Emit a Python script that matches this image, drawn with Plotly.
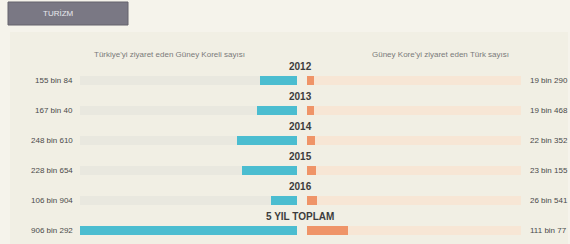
import plotly.graph_objects as go

W, H = 570, 244

row_labels = ["2012", "2013", "2014", "2015", "2016", "5 YIL TOPLAM"]
korea_to_turkey = [155084, 167040, 248610, 228654, 106904, 906292]
korea_to_turkey_labels = ["155 bin 84", "167 bin 40", "248 bin 610", "228 bin 654", "106 bin 904", "906 bin 292"]
turkey_to_korea = [19290, 19468, 22352, 23155, 26541, 111077]
turkey_to_korea_labels = ["19 bin 290", "19 bin 468", "22 bin 352", "23 bin 155", "26 bin 541", "111 bin 77"]

title_text = "TURİZM"
left_subtitle = "Türkiye'yi ziyaret eden Güney Koreli sayısı"
right_subtitle = "Güney Kore'yi ziyaret eden Türk sayısı"

rows = list(range(len(row_labels)))

# Scales (pixel geometry)
left_px = (80, 297)
right_px = (307, 521)
left_max = max(korea_to_turkey)          # total fills left track
right_max = max(turkey_to_korea) * (right_px[1] - right_px[0]) / 41.0

def px(x):
    return x / W

def py(y):
    return 1 - y / H

fig = go.Figure()
bw = 0.3

# background tracks
fig.add_trace(go.Bar(y=rows, x=[left_max] * len(rows), orientation="h", width=bw,
                     marker=dict(color="#e9e8df", line=dict(width=0)),
                     xaxis="x", yaxis="y", hoverinfo="skip", showlegend=False))
fig.add_trace(go.Bar(y=rows, x=[right_max] * len(rows), orientation="h", width=bw,
                     marker=dict(color="#f7e6d5", line=dict(width=0)),
                     xaxis="x2", yaxis="y", hoverinfo="skip", showlegend=False))
# data bars
fig.add_trace(go.Bar(y=rows, x=korea_to_turkey, orientation="h", width=bw,
                     marker=dict(color="#4bbdd0", line=dict(width=0)),
                     xaxis="x", yaxis="y", showlegend=False))
fig.add_trace(go.Bar(y=rows, x=turkey_to_korea, orientation="h", width=bw,
                     marker=dict(color="#ef9468", line=dict(width=0)),
                     xaxis="x2", yaxis="y", showlegend=False))

top = 0 - 80 / 30.0
bottom = top + H / 30.0

annotations = []
for i, lab in enumerate(row_labels):
    annotations.append(dict(x=px(300), xref="paper", y=i - 0.44, yref="y", text=f"<b>{lab}</b>",
                            showarrow=False, xanchor="center", yanchor="middle",
                            font=dict(family="Liberation Sans", size=10, color="#3c3c3c")))
    annotations.append(dict(x=px(75), xref="paper", y=i, yref="y", text=korea_to_turkey_labels[i],
                            showarrow=False, xanchor="right", yanchor="middle",
                            font=dict(family="Liberation Sans", size=8, color="#4a4a4a")))
    annotations.append(dict(x=px(528), xref="paper", y=i, yref="y", text=turkey_to_korea_labels[i],
                            showarrow=False, xanchor="left", yanchor="middle",
                            font=dict(family="Liberation Sans", size=8, color="#4a4a4a")))

annotations.append(dict(x=px(169), y=py(55), xref="paper", yref="paper", text=left_subtitle,
                        showarrow=False, xanchor="center", yanchor="middle",
                        font=dict(family="Liberation Sans", size=8, color="#7a7a7a")))
annotations.append(dict(x=px(440), y=py(55), xref="paper", yref="paper", text=right_subtitle,
                        showarrow=False, xanchor="center", yanchor="middle",
                        font=dict(family="Liberation Sans", size=8, color="#7a7a7a")))
annotations.append(dict(x=px(58), y=py(13.5), xref="paper", yref="paper", text=title_text,
                        showarrow=False, xanchor="center", yanchor="middle",
                        font=dict(family="Liberation Sans", size=8, color="#e8e8ee")))

shapes = [
    dict(type="rect", xref="paper", yref="paper", x0=px(10), x1=px(568), y0=py(244), y1=py(32),
         fillcolor="#f1efe4", line=dict(width=0), layer="below"),
    dict(type="rect", xref="paper", yref="paper", x0=px(8), x1=px(128), y0=py(25), y1=py(2),
         fillcolor="#7a7884", line=dict(color="#64626d", width=1), layer="below"),
]

fig.update_layout(
    width=W, height=H,
    margin=dict(l=0, r=0, t=0, b=0),
    paper_bgcolor="#f5f3eb",
    plot_bgcolor="rgba(0,0,0,0)",
    barmode="overlay",
    bargap=0,
    xaxis=dict(domain=[px(left_px[0]), px(left_px[1])], range=[left_max, 0],
               visible=False, fixedrange=True),
    xaxis2=dict(domain=[px(right_px[0]), px(right_px[1])], range=[0, right_max],
                visible=False, fixedrange=True, anchor="y"),
    yaxis=dict(domain=[0, 1], range=[bottom, top], visible=False, fixedrange=True),
    annotations=annotations,
    shapes=shapes,
)

fig.write_html("out.html", config={"displayModeBar": False},
               post_script="document.body.style.margin='0';document.body.style.overflow='hidden';")
